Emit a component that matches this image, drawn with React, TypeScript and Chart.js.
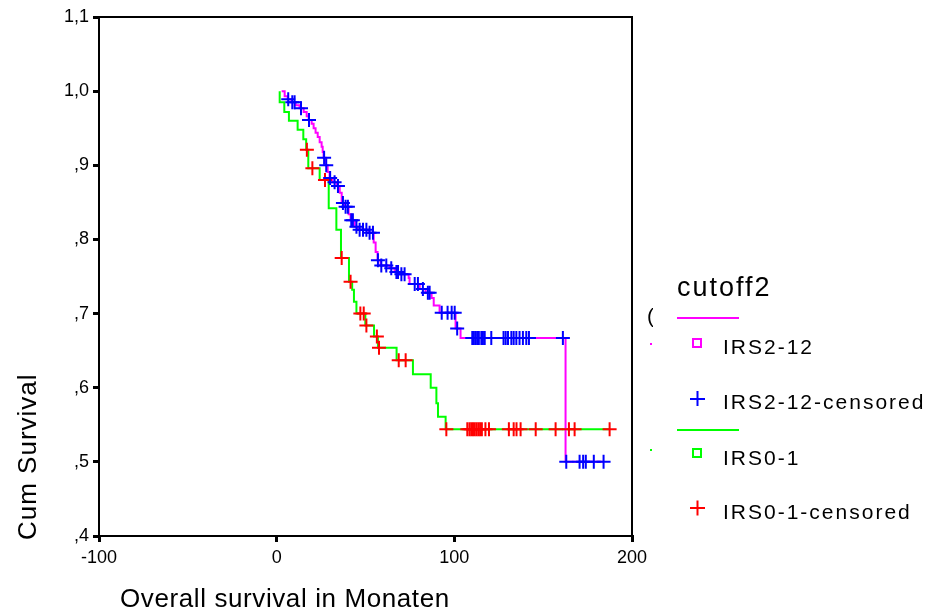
import React, { useEffect, useRef } from 'react';
import { Chart, registerables } from 'chart.js';

Chart.register(...registerables);

// ---- Data (months / cumulative survival) ----
const xTicks = [-100, 0, 100, 200];
const yTicks = [0.4, 0.5, 0.6, 0.7, 0.8, 0.9, 1.0, 1.1];

// IRS2-12 group
const irs212Start = 2.8;
const irs212EventMonths = [4.5, 6.2, 8.4, 10.7, 12.9, 15.2, 16.9, 18.0, 19.7, 20.8, 21.9, 23.1, 24.2, 25.3, 25.9, 26.4, 27.6, 28.7, 29.8, 31.5, 33.8, 35.5, 36.6, 38.3, 40.5, 41.6, 43.9, 45.6, 51.8, 54.6, 55.7, 56.8, 58.5, 63.6, 66.4, 69.2, 74.3, 74.8, 80.5, 83.8, 87.2, 88.4, 91.7, 100.7, 103.5, 162.6];
const irs212Survival = [0.993, 0.989, 0.985, 0.981, 0.977, 0.972, 0.966, 0.961, 0.956, 0.950, 0.944, 0.938, 0.931, 0.925, 0.918, 0.910, 0.900, 0.891, 0.883, 0.877, 0.872, 0.863, 0.849, 0.844, 0.834, 0.826, 0.817, 0.813, 0.809, 0.796, 0.783, 0.772, 0.765, 0.761, 0.756, 0.753, 0.748, 0.740, 0.733, 0.728, 0.721, 0.711, 0.701, 0.680, 0.667, 0.500];
const irs212Censored = [6.5, 8.8, 10.1, 13.7, 18.2, 26.7, 27.9, 30.1, 32.6, 34.5, 37.3, 38.8, 40.1, 42.0, 42.9, 44.9, 46.7, 48.6, 50.5, 52.3, 54.2, 57.0, 58.9, 61.7, 64.5, 67.4, 68.3, 70.2, 72.0, 77.7, 79.5, 82.3, 85.1, 86.1, 92.9, 96.2, 98.5, 100.2, 101.6, 110.1, 111.0, 112.0, 112.9, 113.8, 115.2, 116.1, 117.1, 120.8, 127.7, 128.9, 130.2, 132.1, 133.4, 134.9, 136.7, 138.6, 140.5, 142.0, 161.1, 163.0, 170.5, 172.5, 174.0, 178.5, 184.0];

// IRS0-1 group
const irs01Start = 1.7;
const irs01EventMonths = [1.7, 4.3, 6.9, 11.8, 15.0, 16.6, 17.8, 24.2, 29.3, 33.6, 36.2, 40.7, 42.5, 43.5, 44.9, 49.9, 54.8, 57.0, 67.5, 76.7, 86.7, 89.9, 90.8, 95.1];
const irs01Survival = [0.985, 0.972, 0.960, 0.948, 0.935, 0.921, 0.896, 0.880, 0.842, 0.813, 0.775, 0.743, 0.732, 0.716, 0.700, 0.684, 0.669, 0.654, 0.637, 0.618, 0.600, 0.579, 0.561, 0.544];
const irs01Censored = [17.0, 20.1, 27.2, 36.6, 41.6, 47.1, 49.0, 50.5, 56.4, 57.6, 68.7, 72.6, 95.5, 107.3, 108.5, 109.5, 110.5, 111.5, 112.5, 113.5, 114.5, 115.5, 117.5, 119.5, 130.7, 133.4, 135.0, 137.3, 145.8, 157.0, 164.5, 167.7, 187.4];

const legendTitle = 'cutoff2';
const legendLabels = ['IRS2-12', 'IRS2-12-censored', 'IRS0-1', 'IRS0-1-censored'];
const xTitle = 'Overall survival in Monaten';
const yTitle = 'Cum Survival';

const MAGENTA = '#ff00ff';
const GREEN = '#00ff00';
const BLUE = '#0000ff';
const RED = '#ff0000';
const FONT = "Arial, 'Liberation Sans', sans-serif";

function kmLine(start: number, times: number[], surv: number[], censored: number[]) {
  const pts = [{ x: start, y: 1 }];
  times.forEach((t, i) => pts.push({ x: t, y: surv[i] }));
  const end = Math.max(...censored, ...times);
  pts.push({ x: end, y: surv[surv.length - 1] });
  return pts;
}

function levelAt(t: number, times: number[], surv: number[]) {
  let s = 1;
  for (let i = 0; i < times.length; i++) if (times[i] <= t) s = surv[i];
  return s;
}

function censorPoints(censored: number[], times: number[], surv: number[]) {
  return censored.map((t) => ({ x: t, y: levelAt(t, times, surv) }));
}

function fmtY(v: number) {
  const s = v.toFixed(1);
  return (s.startsWith('0') ? s.slice(1) : s).replace('.', ',');
}

const decorPlugin = {
  id: 'decor',
  afterDraw(chart: any) {
    const ctx = chart.ctx as CanvasRenderingContext2D;
    const a = chart.chartArea;
    ctx.save();
    // frame
    ctx.strokeStyle = '#000';
    ctx.lineWidth = 2;
    ctx.strokeRect(a.left, a.top, a.right - a.left, a.bottom - a.top);

    ctx.fillStyle = '#000';
    (ctx as any).letterSpacing = '0.6px';
    // x title
    ctx.font = `26px ${FONT}`;
    ctx.textAlign = 'left';
    ctx.textBaseline = 'alphabetic';
    ctx.fillText(xTitle, 120, 607);
    // y title
    (ctx as any).letterSpacing = '1px';
    ctx.save();
    ctx.translate(36, 540);
    ctx.rotate(-Math.PI / 2);
    ctx.fillText(yTitle, 0, 0);
    ctx.restore();

    // legend
    (ctx as any).letterSpacing = '2px';
    ctx.font = `27px ${FONT}`;
    ctx.fillText(legendTitle, 677, 296);

    // stray clipped glyph / dots like the original
    ctx.save();
    ctx.beginPath();
    ctx.rect(640, 300, 13, 30);
    ctx.clip();
    ctx.font = `21px ${FONT}`;
    ctx.fillText('(', 647, 323);
    ctx.restore();
    ctx.fillStyle = MAGENTA;
    ctx.fillRect(650, 343, 2, 2);
    ctx.fillStyle = GREEN;
    ctx.fillRect(650, 449, 2, 2);

    ctx.lineWidth = 2;
    // magenta line
    ctx.strokeStyle = MAGENTA;
    ctx.beginPath();
    ctx.moveTo(677, 318);
    ctx.lineTo(739, 318);
    ctx.stroke();
    ctx.strokeRect(693, 339, 8, 8);
    // blue cross
    ctx.strokeStyle = BLUE;
    ctx.beginPath();
    ctx.moveTo(690, 399);
    ctx.lineTo(705, 399);
    ctx.moveTo(697.5, 391);
    ctx.lineTo(697.5, 406);
    ctx.stroke();
    // green line
    ctx.strokeStyle = GREEN;
    ctx.beginPath();
    ctx.moveTo(677, 430);
    ctx.lineTo(739, 430);
    ctx.stroke();
    ctx.strokeRect(693, 449, 8, 8);
    // red cross
    ctx.strokeStyle = RED;
    ctx.beginPath();
    ctx.moveTo(690, 508);
    ctx.lineTo(705, 508);
    ctx.moveTo(697.5, 500.5);
    ctx.lineTo(697.5, 515.5);
    ctx.stroke();

    ctx.fillStyle = '#000';
    ctx.font = `21px ${FONT}`;
    ctx.fillText(legendLabels[0], 723, 354);
    ctx.fillText(legendLabels[1], 723, 409);
    ctx.fillText(legendLabels[2], 723, 465);
    ctx.fillText(legendLabels[3], 723, 519);
    ctx.restore();
  },
};

export default function App() {
  const ref = useRef<HTMLCanvasElement | null>(null);

  useEffect(() => {
    if (!ref.current) return;
    const chart = new Chart(ref.current, {
      type: 'line',
      data: {
        datasets: [
          {
            label: legendLabels[0],
            data: kmLine(irs212Start, irs212EventMonths, irs212Survival, irs212Censored),
            borderColor: MAGENTA,
            borderWidth: 2,
            stepped: 'before',
            pointRadius: 0,
            fill: false,
            order: 3,
          },
          {
            label: legendLabels[2],
            data: kmLine(irs01Start, irs01EventMonths, irs01Survival, irs01Censored),
            borderColor: GREEN,
            borderWidth: 2,
            stepped: 'before',
            pointRadius: 0,
            fill: false,
            order: 4,
          },
          {
            label: legendLabels[1],
            data: censorPoints(irs212Censored, irs212EventMonths, irs212Survival),
            showLine: false,
            pointStyle: 'cross',
            pointRadius: 7,
            borderColor: BLUE,
            backgroundColor: BLUE,
            pointBorderWidth: 2,
            order: 1,
          },
          {
            label: legendLabels[3],
            data: censorPoints(irs01Censored, irs01EventMonths, irs01Survival),
            showLine: false,
            pointStyle: 'cross',
            pointRadius: 7,
            borderColor: RED,
            backgroundColor: RED,
            pointBorderWidth: 2,
            order: 2,
          },
        ] as any,
      },
      options: {
        animation: false,
        responsive: false,
        maintainAspectRatio: false,
        layout: { padding: { top: 17, right: 294, left: 0, bottom: 0 } },
        plugins: { legend: { display: false }, tooltip: { enabled: false } },
        scales: {
          x: {
            type: 'linear',
            min: xTicks[0],
            max: xTicks[xTicks.length - 1],
            afterBuildTicks: (s: any) => {
              s.ticks = xTicks.map((v) => ({ value: v }));
            },
            afterFit: (s: any) => {
              s.height = 75;
            },
            grid: { drawOnChartArea: false, color: '#000', lineWidth: 3, tickLength: 6 },
            border: { display: true, color: '#000', width: 2 },
            ticks: {
              color: '#000',
              padding: 5,
              font: { family: FONT, size: 18 },
              maxRotation: 0,
              callback: (v: any) => String(v),
            },
          },
          y: {
            type: 'linear',
            min: yTicks[0],
            max: yTicks[yTicks.length - 1],
            afterBuildTicks: (s: any) => {
              s.ticks = yTicks.map((v) => ({ value: v }));
            },
            afterFit: (s: any) => {
              s.width = 99;
            },
            grid: { drawOnChartArea: false, color: '#000', lineWidth: 3, tickLength: 6 },
            border: { display: true, color: '#000', width: 2 },
            ticks: {
              color: '#000',
              padding: 4,
              font: { family: FONT, size: 18 },
              callback: (v: any) => fmtY(Number(v)),
            },
          },
        },
      },
      plugins: [decorPlugin],
    });
    return () => chart.destroy();
  }, []);

  return (
    <div style={{ position: 'fixed', left: 0, top: 0, width: 926, height: 611, background: '#fff' }}>
      <canvas ref={ref} width={926} height={611} style={{ width: 926, height: 611, display: 'block' }} />
    </div>
  );
}
